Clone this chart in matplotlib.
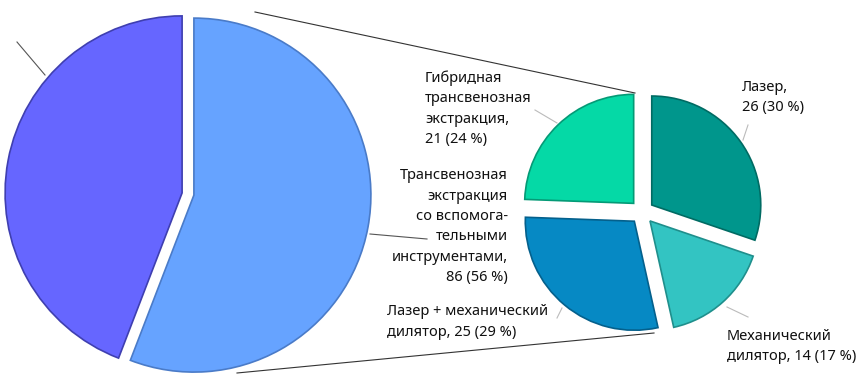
import matplotlib
matplotlib.use("Agg")
import matplotlib.pyplot as plt
from matplotlib.lines import Line2D

plt.rcParams['font.family'] = ['Noto Sans', 'DejaVu Sans']

# Data
main_labels = ["Трансвенозная\nэкстракция\nсо вспомога-\nтельными\nинструментами,\n86 (56 %)", ""]
main_values = [86, 68]
main_colors = ["#66A3FF", "#6666FF"]

sub_labels = ["Лазер,\n26 (30 %)", "Механический\nдилятор, 14 (17 %)",
              "Лазер + механический\nдилятор, 25 (29 %)",
              "Гибридная\nтрансвенозная\nэкстракция,\n21 (24 %)"]
sub_values = [26, 14, 25, 21]
sub_colors = ["#00968C", "#33C4C2", "#0689C4", "#05D9A6"]
sub_edges = ["#006B63", "#1F8F8C", "#04608C", "#049A76"]

W, H = 858, 380
fig = plt.figure(figsize=(W / 100, H / 100), dpi=100)
ax = fig.add_axes([0, 0, 1, 1])

def Y(y):
    return H - y

# Big pie (explode in pixel units since radius is in pixels)
ax.pie(main_values, colors=main_colors, startangle=90, counterclock=False,
       center=(188, Y(194)), radius=177, explode=[6, 6],
       wedgeprops=dict(linewidth=1.2), frame=True)
ax.patches[0].set_edgecolor("#4A7BC8")
ax.patches[1].set_edgecolor("#3F3FB0")

# Small pie
ax.pie(sub_values, colors=sub_colors, startangle=90, counterclock=False,
       center=(642, Y(212)), radius=109, explode=[12] * 4,
       wedgeprops=dict(linewidth=1.2), frame=True)
for p, ec in zip(ax.patches[2:], sub_edges):
    p.set_edgecolor(ec)

ax.set_xlim(0, W)
ax.set_ylim(0, H)
ax.set_aspect('equal')
ax.axis('off')

# Connector lines
ax.add_line(Line2D([255, 635], [Y(12), Y(93)], color="#333333", lw=0.8))
ax.add_line(Line2D([237, 654], [Y(373), Y(333)], color="#333333", lw=0.8))

# Leader lines
lc = "#555555"
ax.add_line(Line2D([17, 45], [Y(42), Y(75)], color=lc, lw=0.8))
ax.add_line(Line2D([370, 427], [Y(234), Y(239)], color=lc, lw=0.8))
lc2 = "#BBBBBB"
ax.add_line(Line2D([535, 557], [Y(110), Y(123)], color=lc2, lw=0.8))
ax.add_line(Line2D([748, 743], [Y(125), Y(140)], color=lc2, lw=0.8))
ax.add_line(Line2D([727, 748], [Y(307), Y(317)], color=lc2, lw=0.8))
ax.add_line(Line2D([562, 557], [Y(308), Y(318)], color=lc2, lw=0.8))

fs = 10.5
ls = 1.5
tc = "#111111"
ax.text(508, Y(168), main_labels[0], ha='right', va='top', fontsize=fs, linespacing=ls, color=tc)
ax.text(742, Y(80), sub_labels[0], ha='left', va='top', fontsize=fs, linespacing=ls, color=tc)
ax.text(727, Y(329), sub_labels[1], ha='left', va='top', fontsize=fs, linespacing=ls, color=tc)
ax.text(387, Y(304), sub_labels[2], ha='left', va='top', fontsize=fs, linespacing=ls, color=tc)
ax.text(425, Y(70), sub_labels[3], ha='left', va='top', fontsize=fs, linespacing=ls, color=tc)

fig.savefig("out.png", dpi=100)
